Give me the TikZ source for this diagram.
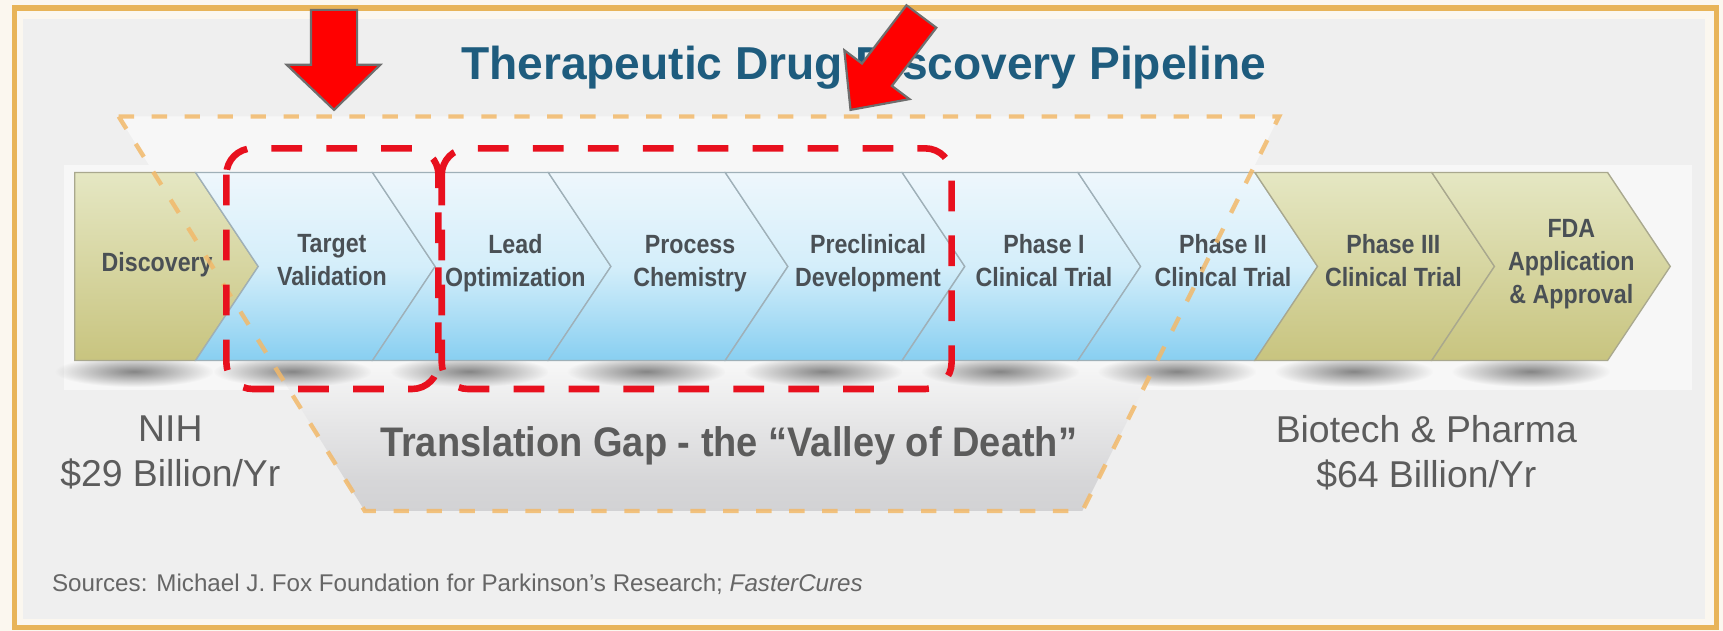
\documentclass[tikz,border=0pt]{standalone}
\usepackage{fontspec}
\setmainfont{Liberation Sans}
\newfontfamily\chevfont[FakeStretch=0.88]{Liberation Sans}
\newfontfamily\valleyfont[FakeStretch=0.92]{Liberation Sans}
\usetikzlibrary{fadings}
\definecolor{outercream}{HTML}{FBF7EF}
\definecolor{framegold}{HTML}{E8B458}
\definecolor{panelgray}{HTML}{EFEFEF}
\definecolor{stripwhite}{HTML}{F7F7F7}
\definecolor{titleblue}{HTML}{1E5C7E}
\definecolor{chevtext}{HTML}{4A5055}
\definecolor{graytext}{HTML}{5C5C5C}
\definecolor{sourcegray}{HTML}{666666}
\definecolor{trapdash}{HTML}{F2B96A}
\definecolor{boxred}{HTML}{E8101E}
\definecolor{arrowred}{HTML}{FF0000}
\definecolor{arrowedge}{HTML}{6E6E6E}
\definecolor{blueTop}{HTML}{EEF7FC}
\definecolor{blueMid}{HTML}{D4EEFA}
\definecolor{blueBot}{HTML}{88CFF1}
\definecolor{oliveTop}{HTML}{E5E7C3}
\definecolor{oliveBot}{HTML}{C8C47F}
\definecolor{sepline}{HTML}{9FB0B8}
\definecolor{oliveline}{HTML}{A9A88E}
\definecolor{valleygray}{HTML}{D2D2D4}
\pgfdeclareverticalshading{valleyshade}{100bp}{color(0bp)=(valleygray); color(25bp)=(valleygray); color(29bp)=(valleygray!90!white); color(44bp)=(white!97!black); color(100bp)=(white!97!black)}
\tikzfading[name=softblob, inner color=transparent!0, outer color=transparent!100]
\tikzset{
  chevblue/.style={top color=blueTop, bottom color=blueBot, middle color=blueMid, draw=sepline, line width=0.6pt},
  chevolive/.style={top color=oliveTop, bottom color=oliveBot, draw=oliveline, line width=0.6pt},
  chevlabel/.style={font=\chevfont\bfseries\fontsize{12}{15}\selectfont, text=chevtext, align=center, inner sep=0pt},
  moneylabel/.style={font=\fontsize{17}{20.5}\selectfont, text=graytext, align=center, inner sep=0pt},
  redbox/.style={draw=boxred, line width=3pt, dash pattern=on 14pt off 11pt, rounded corners=12pt},
  trapline/.style={draw=trapdash, line width=2pt, dash pattern=on 7pt off 8pt, opacity=0.85},
  bigarrow/.style={fill=arrowred, draw=arrowedge, line width=1pt, line join=miter},
  shadowblob/.style={fill=black!48, path fading=softblob},
}
\begin{document}
\begin{tikzpicture}[x=0.5pt,y=-0.5pt]
\useasboundingbox (0,0) rectangle (1568,574);
% background and frame
\fill[outercream] (0,0) rectangle (1568,574);
\draw[framegold, line width=2.5pt] (13,7.5) rectangle (1562,571);
\fill[panelgray] (21,17) rectangle (1552,563);
\fill[stripwhite] (58,150) rectangle (1540,355);
% valley trapezoid fill
\path[shading=valleyshade] (108,106) -- (1164,106) -- (985,465) -- (332,465) -- cycle;
% shadows under the chevrons
\foreach \c in {122,266,427,588,749,910,1071,1232,1393}
  \fill[shadowblob] ({\c-72},324) rectangle ({\c+72},352);
% chevrons
\path[chevolive] (68,157) -- (178,157) -- (235,242.5) -- (178,328) -- (68,328) -- cycle;
\foreach \l/\r in {178/339,339/499,499/660,660/821,821/981,981/1142}
  \path[chevblue] (\l,157) -- (\r,157) -- ({\r+57},242.5) -- (\r,328) -- (\l,328) -- ({\l+57},242.5) -- cycle;
\foreach \l/\r in {1142/1303,1303/1463}
  \path[chevolive] (\l,157) -- (\r,157) -- ({\r+57},242.5) -- (\r,328) -- (\l,328) -- ({\l+57},242.5) -- cycle;
% chevron labels
\node[chevlabel] (disc)  at (143,241)   {Discovery};
\node[chevlabel] (tval)  at (302,237)   {Target\\Validation};
\node[chevlabel] (lopt)  at (469,239.5) {Lead\\Optimization};
\node[chevlabel] (pchem) at (628,239.5) {Process\\Chemistry};
\node[chevlabel] (precl) at (790,239.5) {Preclinical\\Development};
\node[chevlabel] (ph1)   at (950,237)   {Phase I\\Clinical Trial};
\node[chevlabel] (ph2)   at (1113,237)  {Phase II\\Clinical Trial};
\node[chevlabel] (ph3)   at (1268,237)  {Phase III\\Clinical Trial};
\node[chevlabel] (fda)   at (1430,240)  {FDA\\Application\\\& Approval};
% valley dashed outline
\draw[trapline] (108,106) -- (1164,106) -- (985,465) -- (332,465) -- cycle;
% texts
\node[anchor=base, font=\bfseries\fontsize{21}{25}\selectfont, text=titleblue, inner sep=0pt] (title) at (786,72.5) {Therapeutic Drug Discovery Pipeline};
\node[anchor=base, font=\valleyfont\bfseries\fontsize{18.8}{22}\selectfont, text=graytext, inner sep=0pt] (valley) at (663,415) {Translation Gap - the “Valley of Death”};
\node[moneylabel] (nih) at (155,412) {NIH\\\$29 Billion/Yr};
\node[moneylabel] (biotech) at (1298,412) {Biotech \& Pharma\\\$64 Billion/Yr};
\node[anchor=base west, font=\fontsize{11}{13}\selectfont, text=sourcegray, inner sep=0pt] (sources) at (47,538) {Sources: Michael J. Fox Foundation for Parkinson’s Research; \textit{FasterCures}};
% red dashed boxes
\draw[redbox] (206,135) rectangle (399,354);
\draw[redbox] (402,135) rectangle (866,354);
% red arrows
\draw[bigarrow] (283,9) -- (325,9) -- (325,59) -- (346,59) -- (304,100) -- (261,59) -- (283,59) -- cycle;
\draw[bigarrow] (824.9,4.8) -- (852.1,25.2) -- (811.6,78.2) -- (827.6,90.2) -- (774,100) -- (768.4,45.8) -- (784.4,57.8) -- cycle;
\end{tikzpicture}
\end{document}
